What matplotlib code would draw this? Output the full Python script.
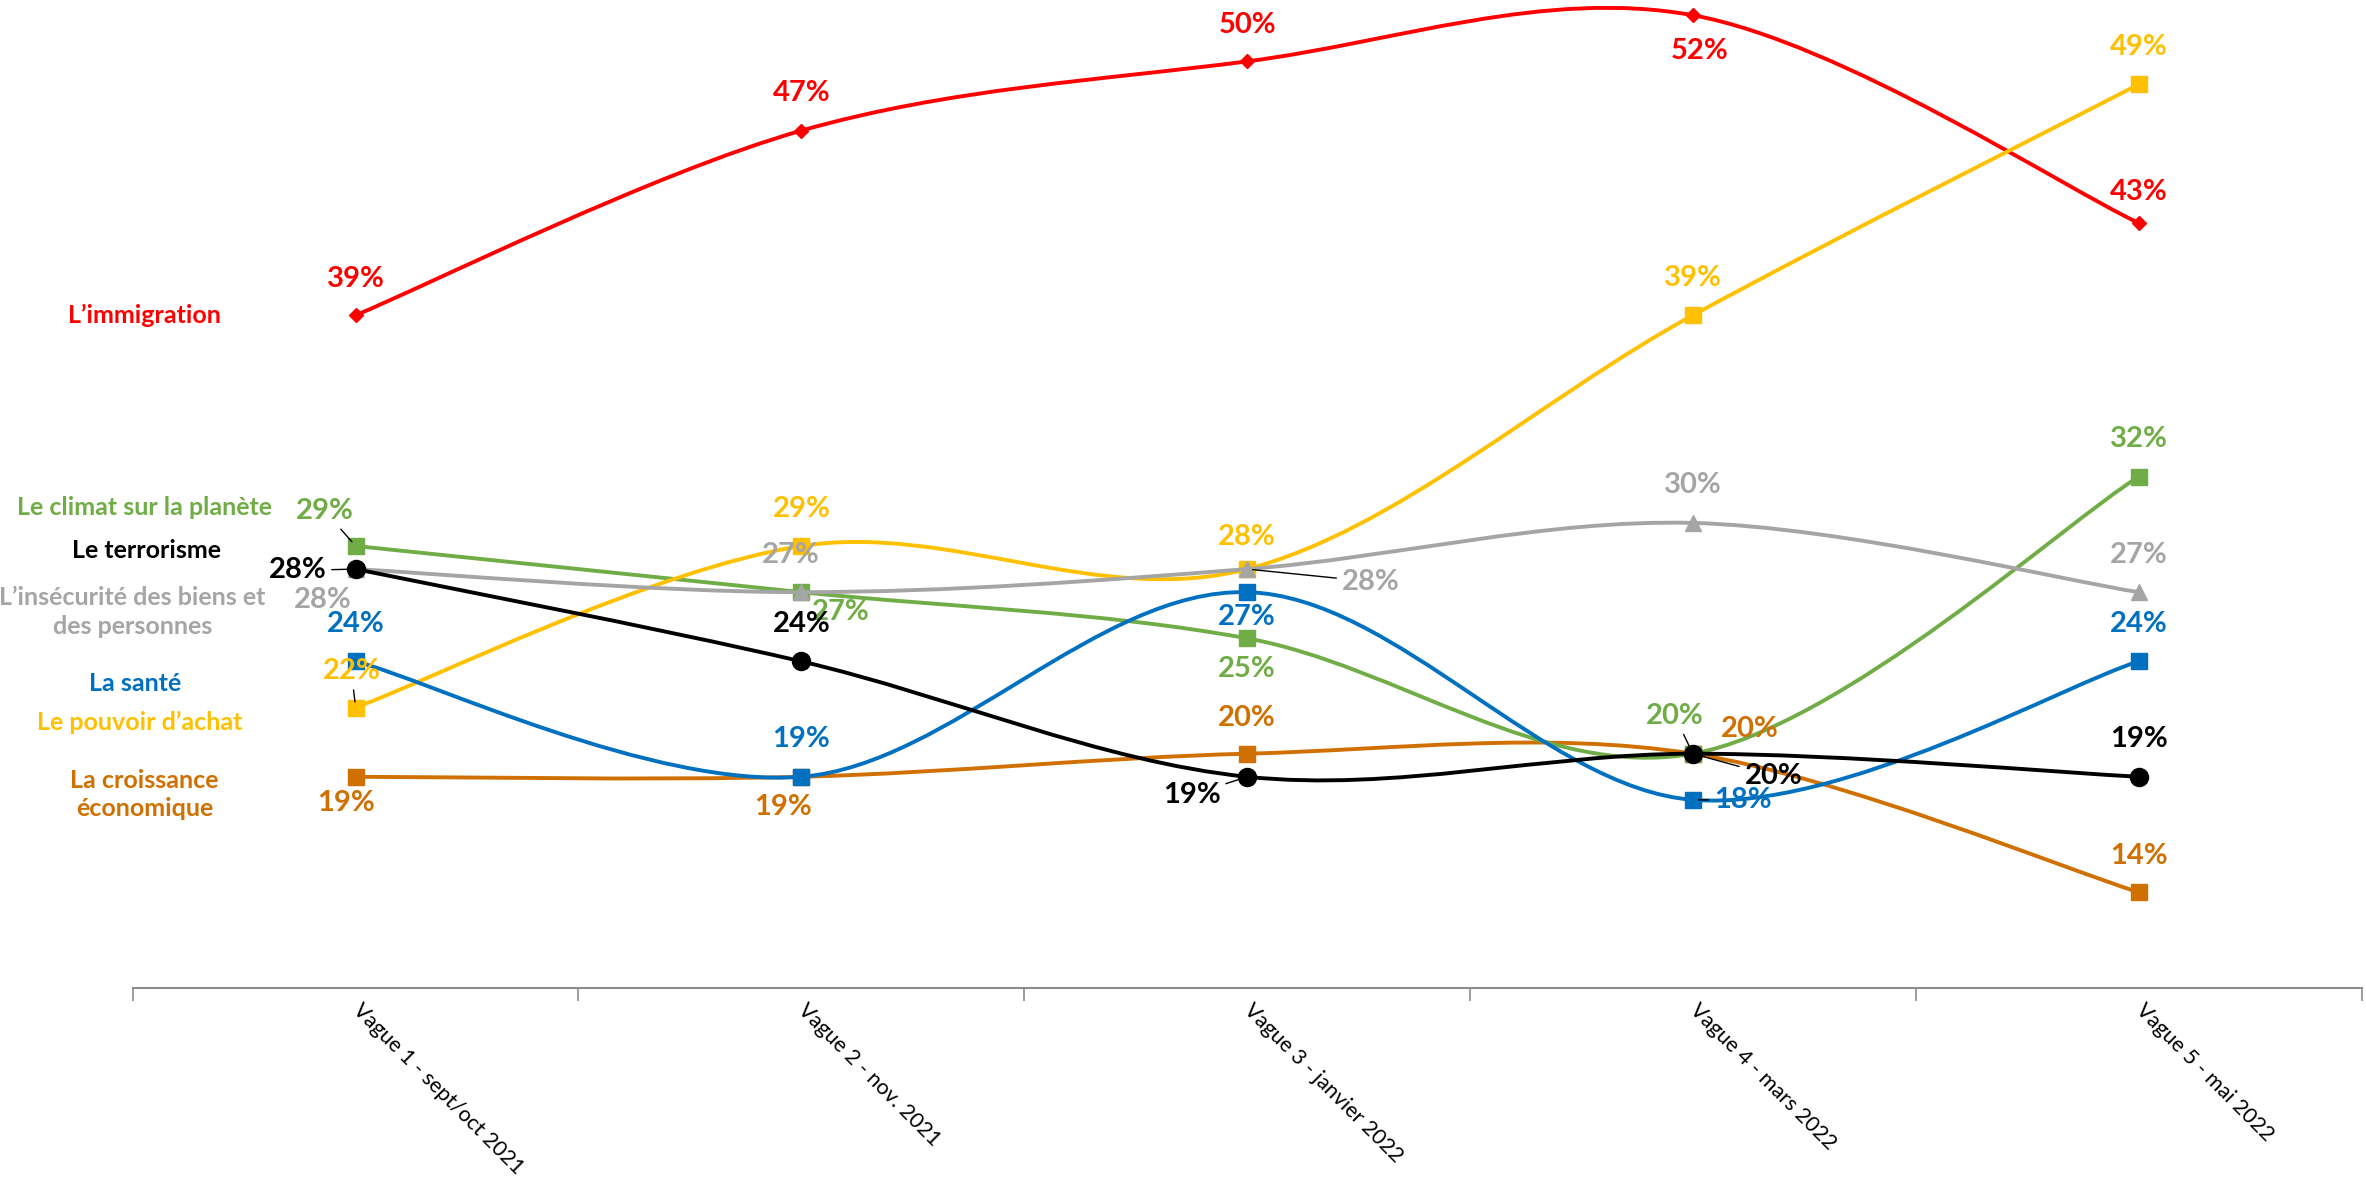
import matplotlib
matplotlib.use("Agg")
import matplotlib.pyplot as plt
from matplotlib.path import Path
from matplotlib.patches import PathPatch

# --------- DONNÉES ---------
vagues = ["Vague 1 - sept/oct 2021", "Vague 2 - nov. 2021", "Vague 3 - janvier 2022",
          "Vague 4 - mars 2022", "Vague 5 - mai 2022"]

immigration = [39, 47, 50, 52, 43]
croissance = [19, 19, 20, 20, 14]
climat = [29, 27, 25, 20, 32]
pouvoir_achat = [22, 29, 28, 39, 49]
insecurite = [28, 27, 28, 30, 27]
sante = [24, 19, 27, 18, 24]
terrorisme = [28, 24, 19, 20, 19]

# --------- STYLE ---------
FONT = "Lato"
RED = "#FF0000"
ORANGE = "#D07000"
GREEN = "#70AD47"
GOLD = "#FFC000"
GRAY = "#A5A5A5"
BLUE = "#0070C0"
BLACK = "#000000"

# (valeurs, couleur, marqueur, taille, décalages des étiquettes en points, étiquettes avec trait)
series = [
    (immigration, RED, "D", 7,
     [(0, 26), (0, 27), (0, 26), (5, -26), (0, 22)], []),
    (croissance, ORANGE, "s", 12,
     [(-7, -19), (-13, -22), (0, 26), (41, 18), (0, 26)], []),
    (climat, GREEN, "s", 12,
     [(-22, 25), (28, -14), (0, -22), (-13, 27), (0, 27)], [0, 3]),
    (pouvoir_achat, GOLD, "s", 12,
     [(-3, 26), (0, 27), (0, 23), (0, 27), (0, 27)], [0]),
    (insecurite, GRAY, "^", 12,
     [(-24, -22), (-8, 27), (89, -9), (0, 27), (0, 27)], [2]),
    (sante, BLUE, "s", 12,
     [(0, 27), (0, 27), (0, -18), (36, 0), (0, 27)], [3]),
    (terrorisme, BLACK, "o", 13,
     [(-42, -1), (0, 27), (-40, -13), (58, -16), (0, 27)], [0, 2, 3]),
]

left_labels = [
    ("L’immigration", RED, 0.061, 0.734),
    ("Le climat sur la planète", GREEN, 0.061, 0.571),
    ("Le terrorisme", BLACK, 0.062, 0.535),
    ("L’insécurité des biens et\ndes personnes", GRAY, 0.056, 0.483),
    ("La santé", BLUE, 0.057, 0.423),
    ("Le pouvoir d’achat", GOLD, 0.059, 0.390),
    ("La croissance\néconomique", ORANGE, 0.061, 0.329),
]


def smooth_path(xs, ys):
    # courbe lissée façon Excel (Catmull-Rom -> Bézier)
    pts = list(zip(xs, ys))
    n = len(pts)
    verts = [pts[0]]
    codes = [Path.MOVETO]
    for i in range(n - 1):
        p0 = pts[i - 1] if i > 0 else pts[i]
        p1 = pts[i]
        p2 = pts[i + 1]
        p3 = pts[i + 2] if i + 2 < n else pts[i + 1]
        c1 = (p1[0] + (p2[0] - p0[0]) / 6, p1[1] + (p2[1] - p0[1]) / 6)
        c2 = (p2[0] - (p3[0] - p1[0]) / 6, p2[1] - (p3[1] - p1[1]) / 6)
        verts += [c1, c2, p2]
        codes += [Path.CURVE4] * 3
    return Path(verts, codes)


fig = plt.figure(figsize=(23.66, 11.84), dpi=100)
ax = fig.add_axes([0.0561, 0.1656, 0.9420, 0.8344])

x = list(range(len(vagues)))
for i, (vals, color, marker, ms, offsets, leaders) in enumerate(series):
    z = 2 + i
    patch = PathPatch(smooth_path(x, vals), fill=False, edgecolor=color, lw=2.8,
                      zorder=z, clip_on=False)
    ax.add_patch(patch)
    ax.plot(x, vals, linestyle="none", marker=marker, markersize=ms, color=color,
            markeredgecolor=color, zorder=z + 0.5, clip_on=False)
    for j, v in enumerate(vals):
        arrow = None
        if j in leaders:
            arrow = dict(arrowstyle="-", color="black", lw=1.0, shrinkA=2, shrinkB=4)
        ax.annotate(f"{v}%", (x[j], v), xytext=offsets[j], textcoords="offset points",
                    ha="center", va="center", fontsize=21, fontweight="bold",
                    family=FONT, color=color, zorder=20, arrowprops=arrow)

for text, color, fx, fy in left_labels:
    fig.text(fx, fy, text, ha="center", va="center", fontsize=18, fontweight="bold",
             family=FONT, color=color, linespacing=1.3)

ax.set_xlim(-0.5, len(vagues) - 0.5)
ax.set_ylim(9.85, 52.66)

for side in ["top", "right", "left"]:
    ax.spines[side].set_visible(False)
ax.spines["bottom"].set_color("#8C8C8C")
ax.spines["bottom"].set_linewidth(1.5)

ax.set_yticks([])
ax.set_xticks(x)
ax.set_xticklabels(vagues, rotation=-45, ha="left", va="center",
                   rotation_mode="anchor", fontsize=15.5, family=FONT)
ax.tick_params(axis="x", which="major", length=0, pad=14)
ax.set_xticks([k - 0.5 for k in range(len(vagues) + 1)], minor=True)
ax.tick_params(axis="x", which="minor", length=9, width=1.2, color="#8C8C8C")

fig.savefig("out.png", dpi=100)
